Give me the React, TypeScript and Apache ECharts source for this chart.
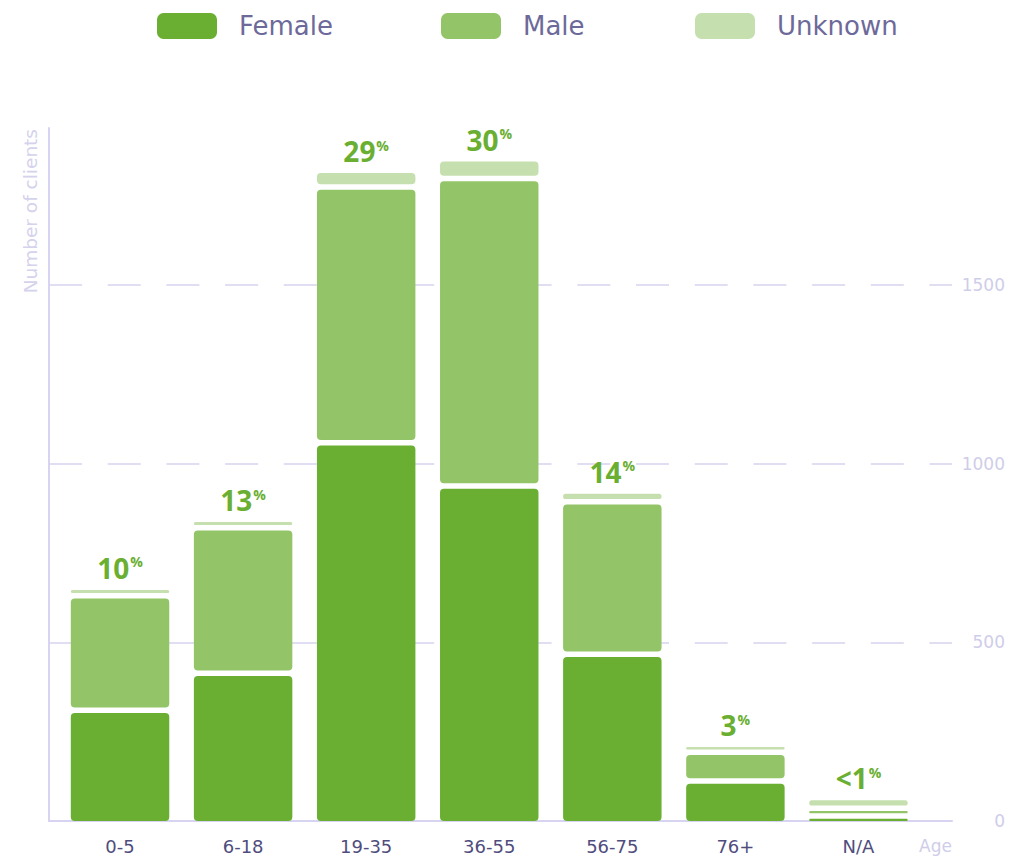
import React, { useEffect, useRef } from 'react';
import * as echarts from 'echarts';

const categories = ['0-5', '6-18', '19-35', '36-55', '56-75', '76+', 'N/A'];
const female = [302, 406, 1051, 930, 459, 104, 6];
const male = [321, 407, 716, 861, 427, 81, 22];
const unknown = [24, 24, 47, 55, 30, 22, 30];
const shareLabels = ['10', '13', '29', '30', '14', '3', '<1'];
const seriesNames = ['Female', 'Male', 'Unknown'];
const yMax = 1940;
const yInterval = 500;

const COLORS = ['#6aaf32', '#93c568', '#c5e0ae'];
const GAP = 5.5;
const LAVENDER = '#cfcde9';
const GRIDLINE = '#d6d4f0';

const stacks = [female, male, unknown];

function makeRender(s: number) {
  return (params: any, api: any) => {
    const i = api.value(0);
    const v = api.value(1);
    let base = 0;
    for (let k = 0; k < s; k++) base += stacks[k][i];
    const pTop = api.coord([i, base + v]);
    const pBot = api.coord([i, base]);
    const bw = api.size([1, 0])[0] * 0.8;
    const bottom = s > 0 ? pBot[1] - GAP : pBot[1];
    const h = Math.max(0, bottom - pTop[1]);
    const r = Math.min(4, h / 2);
    const el: any = {
      type: 'rect',
      shape: { x: pTop[0] - bw / 2, y: pTop[1], width: bw, height: h, r },
      style: { fill: COLORS[s] },
    };
    if (s === 2) {
      el.textContent = {
        style: {
          text: `{v|${shareLabels[i]}}{p|%}`,
          rich: {
            v: {
              fontSize: 28,
              fontWeight: 'bold',
              fontFamily: 'Open Sans',
              fill: COLORS[0],
              color: COLORS[0],
              lineHeight: 28,
            },
            p: {
              fontSize: 14,
              fontWeight: 'bold',
              fontFamily: 'Open Sans',
              fill: COLORS[0],
              color: COLORS[0],
              lineHeight: 14,
              verticalAlign: 'top',
              padding: [1, 0, 0, 1],
            },
          },
        },
      };
      el.textConfig = { position: 'top', distance: 8 };
    }
    return el;
  };
}

export default function App() {
  const ref = useRef<HTMLDivElement>(null);
  useEffect(() => {
    if (!ref.current) return;
    const chart = echarts.init(ref.current, undefined, { renderer: 'svg' });
    const legendLefts = [157, 441, 695];
    const option: any = {
      animation: false,
      color: COLORS,
      legend: seriesNames.map((n, k) => ({
        data: [n],
        left: legendLefts[k],
        top: 13,
        padding: 0,
        icon: 'roundRect',
        itemWidth: 60,
        itemHeight: 26,
        selectedMode: false,
        textStyle: {
          fontFamily: 'DejaVu Sans',
          fontSize: 26,
          color: '#6d6a9a',
          padding: [0, 0, 0, 17],
        },
      })),
      grid: [
        { left: 49, right: 61, top: 128, bottom: 37 },
        { left: 58.5, right: 93, top: 128, bottom: 37 },
      ],
      xAxis: [
        {
          type: 'value',
          gridIndex: 0,
          min: 0,
          max: 1,
          name: 'Age',
          nameLocation: 'end',
          nameGap: 0,
          nameTextStyle: {
            align: 'right',
            verticalAlign: 'top',
            padding: [16, 0, 0, 0],
            color: LAVENDER,
            fontFamily: 'DejaVu Sans',
            fontSize: 17,
          },
          axisLine: { show: true, lineStyle: { color: GRIDLINE, width: 2 } },
          axisTick: { show: false },
          axisLabel: { show: false },
          splitLine: { show: false },
        },
        {
          type: 'category',
          gridIndex: 1,
          data: categories,
          axisLine: { show: false },
          axisTick: { show: false },
          axisLabel: {
            margin: 16,
            color: '#4f4d7e',
            fontFamily: 'DejaVu Sans',
            fontSize: 18,
          },
        },
      ],
      yAxis: [
        {
          type: 'value',
          gridIndex: 0,
          position: 'left',
          min: 0,
          max: yMax,
          interval: yInterval,
          axisLine: { show: true, lineStyle: { color: GRIDLINE, width: 2 } },
          axisTick: { show: false },
          axisLabel: { show: false },
          splitLine: { show: false },
        },
        {
          type: 'value',
          gridIndex: 0,
          position: 'right',
          min: 0,
          max: yMax,
          interval: yInterval,
          axisLine: { show: false },
          axisTick: { show: false },
          axisLabel: {
            align: 'right',
            margin: 53,
            showMaxLabel: false,
            formatter: (v: number) => String(v),
            color: LAVENDER,
            fontFamily: 'DejaVu Sans',
            fontSize: 17,
          },
          splitLine: {
            show: true,
            showMinLine: false,
            showMaxLine: false,
            lineStyle: { color: GRIDLINE, width: 1.5, type: [33, 25.7] },
          },
        },
        {
          type: 'value',
          gridIndex: 1,
          min: 0,
          max: yMax,
          show: false,
        },
      ],
      graphic: [
        {
          type: 'text',
          x: 30,
          y: 129,
          rotation: Math.PI / 2,
          style: {
            text: 'Number of clients',
            align: 'right',
            verticalAlign: 'middle',
            textAlign: 'right',
            textVerticalAlign: 'middle',
            fill: '#d4d2ec',
            fontFamily: 'DejaVu Sans',
            fontSize: 18.5,
          },
        },
      ],
      series: stacks.map((arr, s) => ({
        type: 'custom',
        name: seriesNames[s],
        xAxisIndex: 1,
        yAxisIndex: 2,
        itemStyle: { color: COLORS[s] },
        encode: { x: 0, y: 1 },
        renderItem: makeRender(s),
        data: arr.map((v, i) => [i, v]),
      })),
    };
    chart.setOption(option);
    return () => chart.dispose();
  }, []);
  return (
    <div
      ref={ref}
      style={{ position: 'fixed', left: 0, top: 0, width: 1013, height: 858, background: '#fff' }}
    />
  );
}
